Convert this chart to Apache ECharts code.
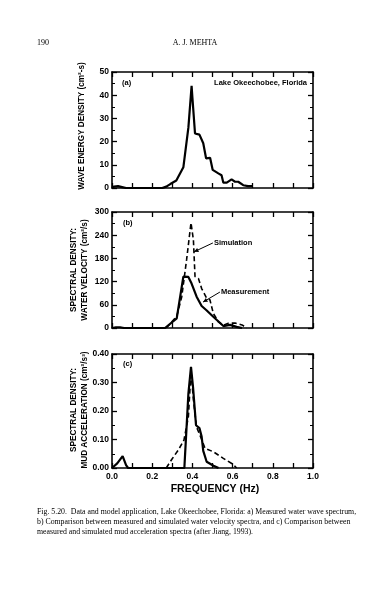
<!DOCTYPE html>
<html><head><meta charset="utf-8">
<script src="https://cdn.jsdelivr.net/npm/echarts@6/dist/echarts.min.js"></script>
<style>html,body{margin:0;padding:0;background:#fff}#c{width:391px;height:593px}</style>
</head><body><div id="c"></div>
<script>
// Panel (a): measured wave energy density
const freqA = [0.0,0.01,0.03,0.05,0.07,0.25,0.27,0.29,0.32,0.355,0.38,0.396,0.40,0.413,0.435,0.454,0.468,0.488,0.501,0.529,0.545,0.554,0.571,0.595,0.612,0.628,0.653,0.677,0.70];
const valA  = [0.3,0.6,0.8,0.4,0,0,0.6,1.7,3.2,8.9,26,44,39,23.5,23,19.3,12.8,13,7.8,6.3,5.5,2.3,2.3,3.7,2.7,2.7,1.2,0.8,0.8];
// Panel (b): water velocity spectra
const freqBMeas = [0,0.02,0.04,0.06,0.264,0.322,0.355,0.38,0.396,0.421,0.446,0.47,0.504,0.554,0.587,0.62,0.647];
const valBMeas  = [0,2,2,0,0,25,133,132,115,81,57,46,29,5,8,3,0];
const freqBSim  = [0.27,0.322,0.347,0.371,0.393,0.405,0.413,0.43,0.446,0.471,0.487,0.504,0.529,0.554,0.579,0.612,0.647,0.67];
const valBSim   = [0,30,81,176,272,228,133,128,102,77,73,38,16,7,12,13,8,0];
// Panel (c): mud acceleration spectra
const freqCMeas = [0,0.026,0.053,0.07,0.08,0.36,0.363,0.38,0.393,0.403,0.418,0.435,0.446,0.454,0.471,0.505,0.53];
const valCMeas  = [0,0.016,0.042,0.01,0,0,0.04,0.26,0.355,0.285,0.15,0.14,0.11,0.06,0.022,0.008,0];
const freqCSim  = [0.27,0.297,0.33,0.358,0.38,0.393,0.405,0.42,0.446,0.463,0.504,0.554,0.604,0.62];
const valCSim   = [0,0.03,0.063,0.098,0.18,0.34,0.24,0.145,0.1,0.069,0.057,0.034,0.012,0];
// Axis tick setup
const xTickLabels = ['0.0','0.2','0.4','0.6','0.8','1.0'];
const yA = {min:0,max:50,interval:10};
const yB = {min:0,max:300,interval:60};
const yC = {min:0,max:0.4,interval:0.1};
// Annotations (data coords in panel b)
const simLabel = {text:'Simulation', from:[0.502,220], to:[0.408,197]};
const measLabel = {text:'Measurement', from:[0.537,93], to:[0.453,67]};

const pairs = (xs, ys) => xs.map((x,i)=>[x, ys[i]]);
const chart = echarts.init(document.getElementById('c'), null, {renderer:'canvas'});
const FONT = 'Liberation Sans';
const SERIF = 'Liberation Serif';

const grids = [
  {left:112, top:72, width:201, height:116},
  {left:112, top:212, width:201, height:116},
  {left:112, top:354, width:201, height:114}
];
const axLine = {show:true, onZero:false, lineStyle:{color:'#000', width:1.6}};
const xAxes = [], yAxes = [];
grids.forEach((g,i)=>{
  const last = i===2;
  xAxes.push({type:'value', gridIndex:i, position:'bottom', min:0, max:1, interval:0.1,
    axisLine:axLine, splitLine:{show:false},
    axisTick:{show:true, inside:true, length:5, lineStyle:{color:'#000', width:1.3}},
    axisLabel:{show:last, color:'#000', fontFamily:FONT, fontWeight:'bold', fontSize:8.5, margin:4, showMinLabel:true, showMaxLabel:true,
      formatter:v=>{const k=Math.round(v*10); return k%2===0 ? xTickLabels[k/2] : '';}}});
  xAxes.push({type:'value', gridIndex:i, position:'top', min:0, max:1, interval:0.1,
    axisLine:axLine, splitLine:{show:false},
    axisTick:{show:true, inside:true, length:5, lineStyle:{color:'#000', width:1.3}},
    axisLabel:{show:false}});
  const ys = [yA,yB,yC][i];
  const fmt = i===2 ? (v=>v.toFixed(2)) : (v=>String(Math.round(v)));
  yAxes.push({type:'value', gridIndex:i, position:'left', min:ys.min, max:ys.max, interval:ys.interval,
    axisLine:axLine, splitLine:{show:false},
    axisTick:{show:true, inside:true, length:5, lineStyle:{color:'#000', width:1.3}},
    minorTick:{show:true, splitNumber:2, length:3, lineStyle:{color:'#000', width:1}},
    axisLabel:{color:'#000', fontFamily:FONT, fontWeight:'bold', fontSize:8.5, margin:3, showMinLabel:true, showMaxLabel:true, formatter:fmt}});
  yAxes.push({type:'value', gridIndex:i, position:'right', min:ys.min, max:ys.max, interval:ys.interval,
    axisLine:axLine, splitLine:{show:false},
    axisTick:{show:true, inside:true, length:5, lineStyle:{color:'#000', width:1.3}},
    minorTick:{show:true, splitNumber:2, length:3, lineStyle:{color:'#000', width:1}},
    axisLabel:{show:false}});
});

const solid = {color:'#000', width:2.2};
const dashed = {color:'#000', width:1.6, type:[5,3]};
const mk = (xi, data, ls) => ({type:'line', xAxisIndex:xi, yAxisIndex:xi, data, showSymbol:false, symbol:'none', lineStyle:ls, silent:true, animation:false});

chart.setOption({
  animation:false,
  grid:grids,
  xAxis:xAxes,
  yAxis:yAxes,
  series:[
    mk(0, pairs(freqA,valA), solid),
    mk(2, pairs(freqBMeas,valBMeas), solid),
    mk(2, pairs(freqBSim,valBSim), dashed),
    mk(4, pairs(freqCMeas,valCMeas), solid),
    mk(4, pairs(freqCSim,valCSim), dashed)
  ]
});

const toPx = (pt) => chart.convertToPixel({xAxisIndex:2, yAxisIndex:2}, pt);
const arrow = (a) => {
  const p0 = toPx(a.from), p1 = toPx(a.to);
  const ang = Math.atan2(p1[1]-p0[1], p1[0]-p0[0]);
  const L = 5, w = 0.45;
  const h1 = [p1[0]-L*Math.cos(ang-w), p1[1]-L*Math.sin(ang-w)];
  const h2 = [p1[0]-L*Math.cos(ang+w), p1[1]-L*Math.sin(ang+w)];
  return [
    {type:'line', shape:{x1:p0[0],y1:p0[1],x2:p1[0],y2:p1[1]}, style:{stroke:'#000', lineWidth:1}},
    {type:'polygon', shape:{points:[p1,h1,h2]}, style:{fill:'#000'}},
    {type:'text', x:p0[0]+1, y:p0[1], style:{text:a.text, font:'bold 7.5px '+FONT, fill:'#000', textAlign:'left', textVerticalAlign:'middle'}}
  ];
};

const txt = (x,y,text,font,align,rot) => ({type:'text', x, y, rotation:rot||0, style:{text, font, fill:'#000', textAlign:align||'left', textVerticalAlign:'middle'}});
const vt = (x,y,text) => txt(x,y,text,'bold 8.2px '+FONT,'center',Math.PI/2);

chart.setOption({graphic:[
  txt(37,43,'190','8px '+SERIF,'left'),
  txt(195,43,'A. J. MEHTA','8px '+SERIF,'center'),
  txt(122,83,'(a)','bold 7.5px '+FONT,'left'),
  txt(307,83,'Lake Okeechobee, Florida','bold 7.5px '+FONT,'right'),
  txt(123,223,'(b)','bold 7.5px '+FONT,'left'),
  txt(123,364,'(c)','bold 7.5px '+FONT,'left'),
  vt(82,126,'WAVE ENERGY DENSITY (cm²-s)'),
  vt(74,270,'SPECTRAL DENSITY:'),
  vt(85,270,'WATER VELOCITY (cm²/s)'),
  vt(74,410,'SPECTRAL DENSITY:'),
  vt(85,410,'MUD ACCELERATION (cm²/s³)'),
  txt(215,489,'FREQUENCY (Hz)','bold 10.5px '+FONT,'center'),
  txt(37,512,'Fig. 5.20.  Data and model application, Lake Okeechobee, Florida: a) Measured water wave spectrum,','7.8px '+SERIF,'left'),
  txt(37,522,'b) Comparison between measured and simulated water velocity spectra, and c) Comparison between','7.8px '+SERIF,'left'),
  txt(37,532,'measured and simulated mud acceleration spectra (after Jiang, 1993).','7.8px '+SERIF,'left'),
  ...arrow(simLabel),
  ...arrow(measLabel)
]});
</script></body></html>
